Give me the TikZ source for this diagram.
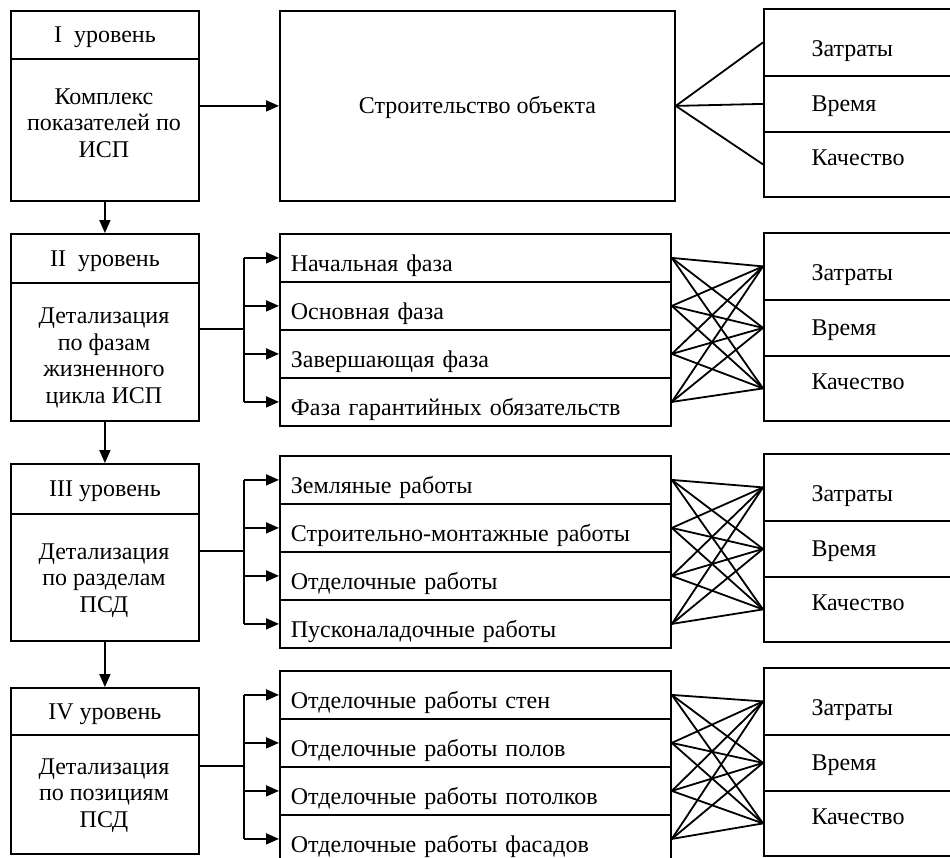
\documentclass[tikz,border=0pt]{standalone}
\usepackage{fontspec}
\setmainfont{Liberation Serif}
\usetikzlibrary{arrows.meta, calc}
\newcommand\diagfont{\fontsize{24}{26.5}\selectfont}

\begin{document}
\begin{tikzpicture}[x=1pt, y=-1pt,
    every node/.style={font=\diagfont},
    cell/.style={draw, line width=1.8pt, inner sep=0pt, anchor=north west},
    head/.style={cell, minimum width=188pt, text height=16pt, text depth=0pt},
    body/.style={cell, minimum width=188pt},
    txt/.style={align=center, anchor=base},
    row/.style={cell, minimum width=391pt, minimum height=48pt,
                text width=369pt, inner xsep=11pt, align=left,
                text height=28pt, text depth=0pt},
    crit/.style={cell, minimum width=200pt},
    lnk/.style={line width=1.8pt},
    arr/.style={-{Triangle[length=13pt, width=11pt]}, line width=1.8pt}
  ]
  \useasboundingbox (0,0) rectangle (950,857);

  % level I
  \node[head, minimum height=48pt] (h1) at (10,10) {I\ \ уровень};
  \node[body, minimum height=142pt] (b1) at (10,58) {};
  \node[txt] (t1) at (104,157) {Комплекс\\показателей по\\ИСП};
  \node[cell, minimum width=395pt, minimum height=190pt,
        text height=15pt, text depth=0pt] (obj) at (279,10) {Строительство объекта};

  % level II
  \node[head, minimum height=49pt] (h2) at (10,233) {II\ \ уровень};
  \node[body, minimum height=138pt] (b2) at (10,282) {};
  \node[txt] (t2) at (104,403) {Детализация\\по фазам\\жизненного\\цикла ИСП};
  \foreach \i/\lbl in {1/Начальная фаза, 2/Основная фаза,
                       3/Завершающая фаза, 4/Фаза гарантийных обязательств}
    \node[row] (p2\i) at (279,185+48*\i) {\lbl};

  % level III
  \node[head, minimum height=50pt] (h3) at (10,463) {III уровень};
  \node[body, minimum height=127pt] (b3) at (10,513) {};
  \node[txt] (t3) at (104,612) {Детализация\\по разделам\\ПСД};
  \foreach \i/\lbl in {1/Земляные работы, 2/Строительно-монтажные работы,
                       3/Отделочные работы, 4/Пусконаладочные работы}
    \node[row] (p3\i) at (279,407+48*\i) {\lbl};

  % level IV
  \node[head, minimum height=47pt] (h4) at (10,687) {IV уровень};
  \node[body, minimum height=119pt] (b4) at (10,734) {};
  \node[txt] (t4) at (104,827) {Детализация\\по позициям\\ПСД};
  \foreach \i/\lbl in {1/Отделочные работы стен, 2/Отделочные работы полов,
                       3/Отделочные работы потолков, 4/Отделочные работы фасадов}
    \node[row] (p4\i) at (279,622+48*\i) {\lbl};

  % criteria
  \foreach \n/\t in {1/8, 2/232, 3/453, 4/667} {
    \node[crit, minimum height=67pt] (ka\n) at (763,\t) {};
    \node[crit, minimum height=56pt] (kb\n) at (763,\t+67) {};
    \node[crit, minimum height=65pt] (kc\n) at (763,\t+123) {};
    \node[anchor=base west] (z\n) at (808,\t+48) {Затраты};
    \node[anchor=base west] (v\n) at (808,\t+103) {Время};
    \node[anchor=base west] (q\n) at (808,\t+157) {Качество};
  }

  % connectors
  \draw[arr] (b1.east |- obj.west) -- (obj.west);
  \foreach \k in {ka,kb,kc}
    \draw[lnk] (obj.east) -- (\k1.west);
  \foreach \a/\b in {1/2, 2/3, 3/4}
    \draw[arr] (b\a.south) -- (h\b.north);
  \foreach \n/\y in {2/329, 3/551, 4/766} {
    \coordinate (br\n) at (244,\y);
    \draw[lnk] (b\n.east |- br\n) -- (br\n);
    \draw[lnk] (br\n |- p\n1.west) -- (br\n |- p\n4.west);
    \foreach \i in {1,...,4} {
      \draw[arr] (br\n |- p\n\i.west) -- (p\n\i.west);
      \foreach \k in {ka,kb,kc}
        \draw[lnk] (p\n\i.east) -- (\k\n.west);
    }
  }
\end{tikzpicture}
\end{document}
